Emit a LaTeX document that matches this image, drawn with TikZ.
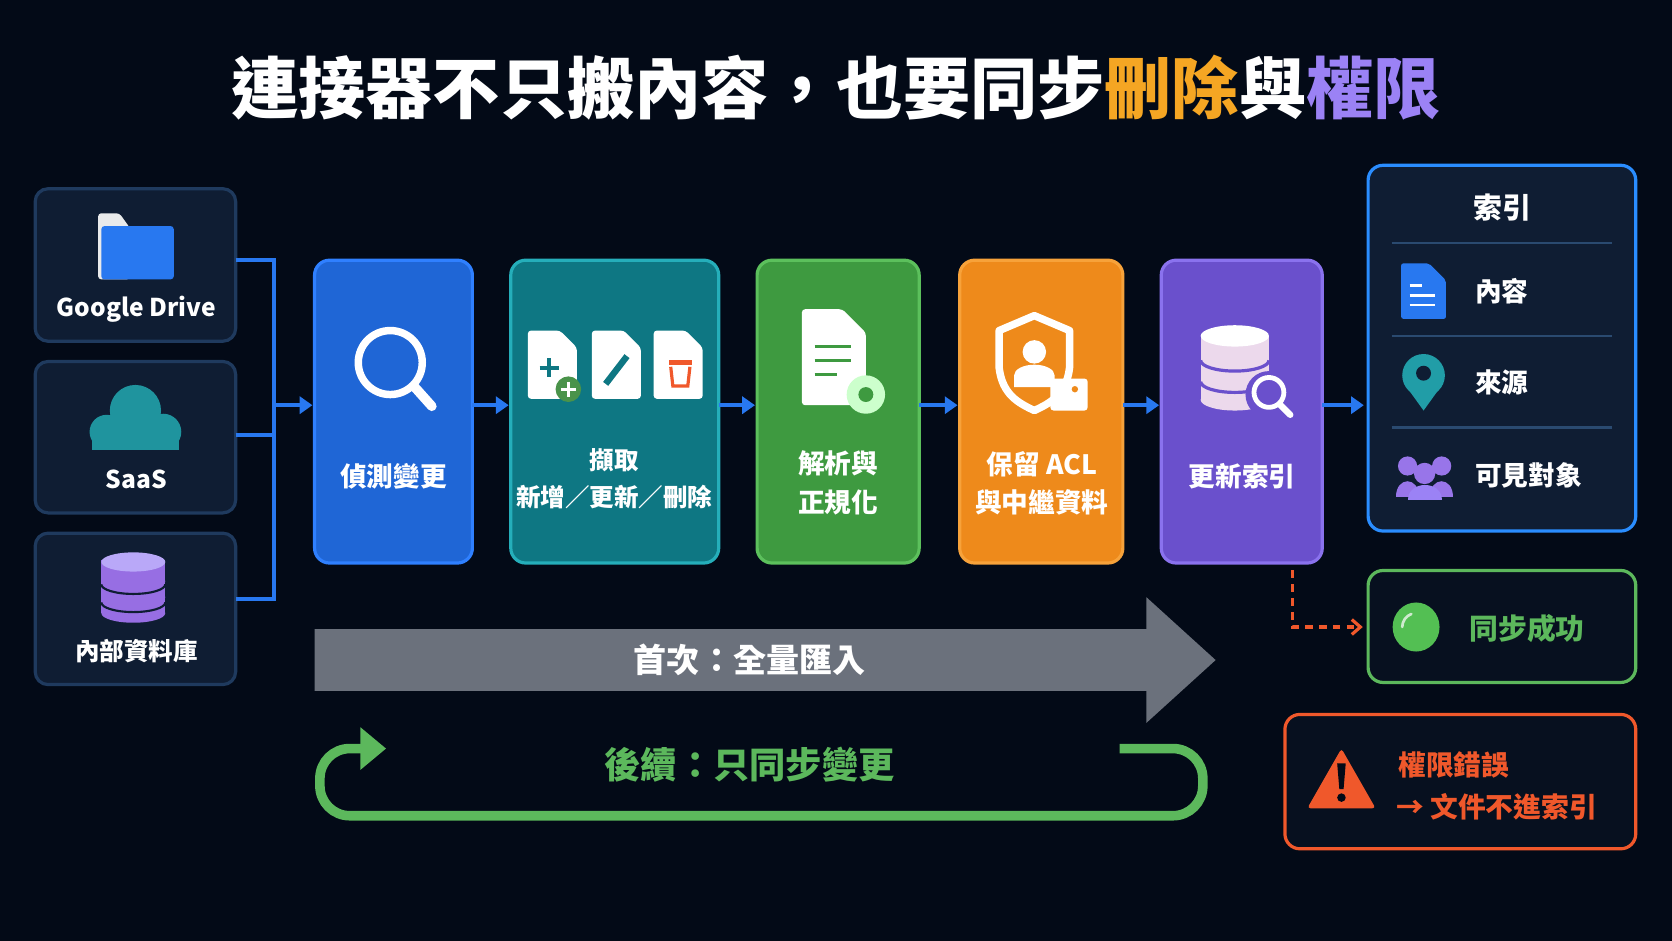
\documentclass[tikz,border=0pt]{standalone}
\usepackage{fontspec}
\setmainfont{Noto Sans CJK TC}
\usetikzlibrary{arrows.meta}
\definecolor{bg}{HTML}{030A17}
\definecolor{srcfill}{HTML}{0F1D33}
\definecolor{srcline}{HTML}{1F3A5E}
\definecolor{sepline}{HTML}{2A4A70}
\definecolor{flow}{HTML}{2878F0}
\definecolor{cBlue}{HTML}{1F66D6}\definecolor{lBlue}{HTML}{2F80FF}
\definecolor{cTeal}{HTML}{0E7783}\definecolor{lTeal}{HTML}{25AEBA}
\definecolor{cGreen}{HTML}{3E9A40}\definecolor{lGreen}{HTML}{5CC05C}
\definecolor{cOrange}{HTML}{EE8A1B}\definecolor{lOrange}{HTML}{F7A23A}
\definecolor{cPurple}{HTML}{6A50CC}\definecolor{lPurple}{HTML}{8A72EE}
\definecolor{tOrange}{HTML}{F5A623}\definecolor{tPurple}{HTML}{9B82F5}
\definecolor{okGreen}{HTML}{5CB85C}\definecolor{err}{HTML}{F0582B}
\definecolor{gray}{HTML}{6B717C}
\begin{document}
\begin{tikzpicture}[x=1pt,y=-1pt,
  src/.style={draw=srcline,fill=srcfill,line width=3pt,rounded corners=12pt},
  stepbox/.style={line width=3pt,rounded corners=14pt},
  lbl/.style={text=white,font=\bfseries\fontsize{25}{32}\selectfont,align=center},
  fl/.style={draw=flow,line width=3.5pt},
  fa/.style={fl,-{Triangle[length=12pt,width=16pt]}},
  doc/.style={fill=white,rounded corners=3pt}]
\fill[bg] (0,0) rectangle (1568,882);
\useasboundingbox (0,0) rectangle (1568,882);
% title
\node[font=\bfseries\fontsize{63}{66}\selectfont,text=white] (title) at (784,82)
 {連接器不只搬內容，也要同步\textcolor{tOrange}{刪除}與\textcolor{tPurple}{權限}};
% sources
\draw[src] (33,177) rectangle (221,320);
\draw[src] (33,339) rectangle (221,481);
\draw[src] (33,500) rectangle (221,642);
% folder icon
\fill[white!85!gray,rounded corners=3pt] (92,200) -- (112,200) -- (122,214) -- (122,262) -- (92,262) -- cycle;
\fill[flow,rounded corners=3pt] (95,212) rectangle (163,262);
\node[lbl,font=\bfseries\fontsize{23}{28}\selectfont] (gd) at (128,290) {Google Drive};
% cloud
\fill[lTeal!85!black] (86,422) rectangle (168,402);
\fill[lTeal!85!black] (127,385) circle (24) (100,405) circle (16) (153,405) circle (17);
\node[lbl,font=\bfseries\fontsize{23}{28}\selectfont] (saas) at (128,450) {SaaS};
% db
\foreach \y in {555,540,525}{\fill[tPurple!85!violet] (95,\y) rectangle (155,\y+20);
 \fill[tPurple!85!violet] (125,\y+20) ellipse (30 and 9);}
\fill[tPurple!70!white] (125,527) ellipse (30 and 9);
\draw[srcfill,line width=2pt] (95,548) arc (180:0:30 and 9) (95,565) arc (180:0:30 and 9);
\node[lbl,font=\bfseries\fontsize{23}{28}\selectfont] (db) at (128,611) {內部資料庫};
% bracket
\coordinate (j) at (257,380);
\draw[fl] (221,244) -| (257,562) -- (221,562);
\draw[fl] (221,408) -- (257,408);
% steps
\draw[stepbox,draw=lBlue,fill=cBlue] (295,244) rectangle (443,528);
\draw[stepbox,draw=lTeal,fill=cTeal] (479,244) rectangle (674,528);
\draw[stepbox,draw=lGreen,fill=cGreen] (710,244) rectangle (862,528);
\draw[stepbox,draw=lOrange,fill=cOrange] (900,244) rectangle (1053,528);
\draw[stepbox,draw=lPurple,fill=cPurple] (1089,244) rectangle (1240,528);
\draw[fa] (257,380) -- (293,380);
\draw[fa] (443,380) -- (477,380);
\draw[fa] (674,380) -- (708,380);
\draw[fa] (862,380) -- (898,380);
\draw[fa] (1053,380) -- (1087,380);
\draw[fa] (1240,380) -- (1279,380);
% step icons
\draw[white,line width=7pt] (366,340) circle (30);
\draw[white,line width=9pt,line cap=round] (388,362) -- (405,381);
\node[lbl] (t1) at (369,447) {偵測變更};
\foreach \x in {495,555,613}{\fill[doc] (\x,310) -- (\x+30,310) -- (\x+46,326) -- (\x+46,374) -- (\x,374) -- cycle;}
\draw[cTeal,line width=4pt] (506,345) -- (524,345) (515,336) -- (515,354);
\fill[okGreen!80!black] (533,365) circle (12); \draw[white,line width=3pt] (526,365) -- (540,365) (533,358) -- (533,372);
\draw[cTeal,line width=6pt] (568,360) -- (588,334);
\fill[err] (627,338) rectangle (649,342); \draw[err,line width=3pt] (629,344) -- (631,362) -- (645,362) -- (647,344);
\node[lbl,font=\bfseries\fontsize{23}{34}\selectfont] (t2) at (576,449) {擷取\\新增／更新／刪除};
\fill[doc] (752,290) -- (790,290) -- (812,312) -- (812,380) -- (752,380) -- cycle;
\draw[cGreen,line width=3pt] (764,325) -- (798,325) (764,338) -- (798,338) (764,351) -- (785,351);
\fill[white!80!green] (812,370) circle (18); \fill[cGreen] (812,370) circle (7);
\node[lbl,font=\bfseries\fontsize{25}{36}\selectfont] (t3) at (786,453) {解析與\\正規化};
\draw[white,line width=7pt,line join=round] (970,296) -- (1003,310) -- (1003,345) .. controls (1000,370) and (985,378) .. (970,385) .. controls (955,378) and (940,370) .. (937,345) -- (937,310) -- cycle;
\fill[white] (970,330) circle (11); \fill[white] (951,363) rectangle (989,352) (970,352) ellipse (19 and 10);
\fill[white,rounded corners=3pt] (985,355) rectangle (1020,385); \fill[cOrange] (1008,365) circle (3);
\node[lbl,font=\bfseries\fontsize{25}{36}\selectfont] (t4) at (977,453) {保留 ACL\\與中繼資料};
% db+search icon
\fill[white!85!violet] (1126,315) rectangle (1190,375);
\fill[white!85!violet] (1158,375) ellipse (32 and 10);
\fill[white] (1158,315) ellipse (32 and 10);
\draw[cPurple,line width=3pt] (1126,338) arc (180:360:32 and -10) (1126,358) arc (180:360:32 and -10);
\fill[cPurple] (1190,370) circle (22);
\draw[white,line width=4.5pt] (1190,368) circle (14);
\draw[white,line width=6pt,line cap=round] (1200,379) -- (1210,389);
\node[lbl] (t5) at (1165,447) {更新索引};
% index
\draw[draw=lBlue!90!cyan,fill=srcfill,line width=3pt,rounded corners=14pt] (1283,155) rectangle (1534,498);
\node[lbl,font=\bfseries\fontsize{27}{32}\selectfont] (ix) at (1409,195) {索引};
\foreach \y in {228,315,401}{\draw[sepline,line width=2.5pt] (1305,\y) -- (1512,\y);}
\fill[flow,rounded corners=2pt] (1314,247) -- (1340,247) -- (1356,263) -- (1356,299) -- (1314,299) -- cycle;
\draw[white,line width=2.5pt] (1322,268) -- (1334,268) (1322,277) -- (1346,277) (1322,286) -- (1346,286);
\node[lbl,anchor=west] (i1) at (1380,273) {內容};
\fill[lTeal!90!black] (1335,352) circle (20);
\fill[lTeal!90!black] (1317,360) -- (1335,385) -- (1353,360) -- cycle;
\fill[srcfill] (1335,350) circle (7);
\node[lbl,anchor=west] (i2) at (1380,359) {來源};
\fill[tPurple!90!violet] (1320,437) circle (9) (1352,437) circle (9) (1336,444) circle (10);
\fill[tPurple!90!violet] (1309,466) .. controls (1309,446) and (1331,446) .. (1331,466) -- cycle;
\fill[tPurple!90!violet] (1341,466) .. controls (1341,446) and (1363,446) .. (1363,466) -- cycle;
\fill[tPurple] (1320,469) .. controls (1320,450) and (1352,450) .. (1352,469) -- cycle;
\node[lbl,anchor=west] (i3) at (1380,446) {可見對象};
% success
\draw[draw=okGreen,fill=bg!70!srcfill,line width=3pt,rounded corners=14pt] (1283,535) rectangle (1534,640);
\fill[okGreen!90!green] (1328,588) ellipse (22 and 23);
\draw[white!70!okGreen,line width=2.5pt,line cap=round] (1315,588) arc (180:250:13);
\node[font=\bfseries\fontsize{27}{32}\selectfont,text=okGreen] (ok) at (1432,589) {同步成功};
\coordinate (d0) at (1212,535);
\draw[err,line width=3pt,dash pattern=on 7pt off 6pt,-{Straight Barb[length=8pt,width=14pt]}] (d0) |- (1278,588);
% error
\draw[draw=err,fill=bg!70!srcfill,line width=3pt,rounded corners=14pt] (1205,670) rectangle (1534,796);
\fill[err,rounded corners=3pt] (1258,702) -- (1290,758) -- (1226,758) -- cycle;
\fill[bg] (1254,716) -- (1262,716) -- (1260,740) -- (1256,740) -- cycle; \fill[bg] (1258,748) circle (4);
\node[font=\bfseries\fontsize{26}{32}\selectfont,text=err,anchor=west] (e1) at (1308,717) {權限錯誤};
\node[font=\bfseries\fontsize{26}{32}\selectfont,text=err,anchor=west] (e2) at (1306,757) {→ 文件不進索引};
% gray arrow
\fill[gray] (295,590) -- (1075,590) -- (1075,560) -- (1140,619) -- (1075,678) -- (1075,648) -- (295,648) -- cycle;
\node[lbl,font=\bfseries\fontsize{31}{34}\selectfont] (full) at (703,619) {首次：全量匯入};
% loop
\draw[okGreen,line width=9pt,rounded corners=28pt] (1050,702) -- (1128,702) -- (1128,765) -- (300,765) -- (300,702) -- (342,702);
\fill[okGreen] (338,682) -- (362,702) -- (338,722) -- cycle;
\node[font=\bfseries\fontsize{34}{38}\selectfont,text=okGreen] (inc) at (703,717) {後續：只同步變更};
\end{tikzpicture}
\end{document}
